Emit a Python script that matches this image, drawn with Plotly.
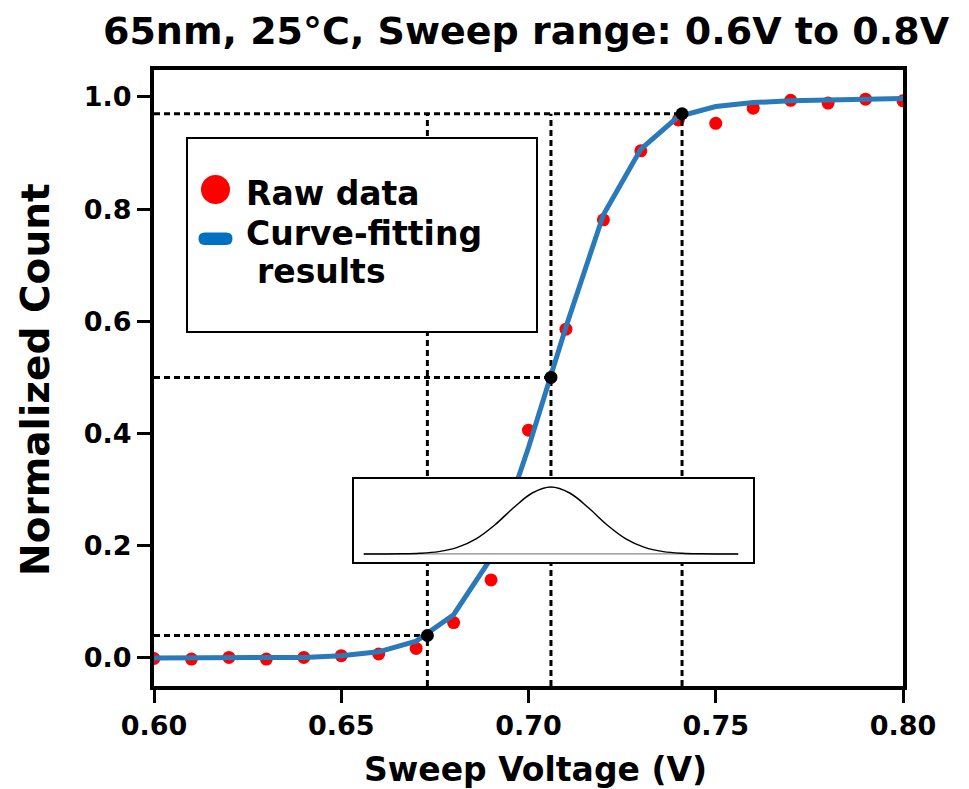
import plotly.graph_objects as go

# ---------------- data ----------------
sweep_v = [0.60, 0.61, 0.62, 0.63, 0.64, 0.65, 0.66, 0.67, 0.68, 0.69, 0.70,
           0.71, 0.72, 0.73, 0.74, 0.75, 0.76, 0.77, 0.78, 0.79, 0.80]
raw_count = [-0.001, -0.002, 0.001, -0.002, 0.001, 0.004, 0.007, 0.017, 0.063, 0.139, 0.406,
             0.586, 0.781, 0.904, 0.959, 0.953, 0.980, 0.994, 0.989, 0.996, 0.993]
fit_count = [0.0, 0.0, 0.0, 0.0005, 0.001, 0.004, 0.011, 0.030, 0.077, 0.178, 0.375,
             0.590, 0.790, 0.907, 0.965, 0.983, 0.990, 0.993, 0.995, 0.996, 0.997]

# key points on the fit (x, y)
key_v = [0.673, 0.706, 0.741]
key_y = [0.04, 0.50, 0.97]

# inset distribution (derivative of the fit)
inset_v = [0.656, 0.661, 0.666, 0.671, 0.676, 0.681, 0.686, 0.691, 0.696, 0.701, 0.706,
           0.711, 0.716, 0.721, 0.726, 0.731, 0.736, 0.741, 0.746, 0.751, 0.756]
inset_y = [0.0001, 0.0005, 0.0026, 0.0106, 0.035, 0.098, 0.226, 0.433, 0.690, 0.911, 1.0,
           0.911, 0.690, 0.433, 0.226, 0.098, 0.035, 0.0106, 0.0026, 0.0005, 0.0001]

x_ticks = [0.60, 0.65, 0.70, 0.75, 0.80]
y_ticks = [0.0, 0.2, 0.4, 0.6, 0.8, 1.0]

X_RANGE = [0.6, 0.8]
Y_RANGE = [-0.05, 1.048]

FONT = "DejaVu Sans"
W, H = 969, 789
ML, MR, MT, MB = 154, 66, 70, 103
PW, PH = W - ML - MR, H - MT - MB


def px(xp):
    return (xp - ML) / PW


def py(yp):
    return (H - MB - yp) / PH


fig = go.Figure()

# raw data
fig.add_trace(go.Scatter(x=sweep_v, y=raw_count, mode="markers",
                         marker=dict(color="#ff0000", size=13),
                         showlegend=False, hoverinfo="skip"))

# guide lines (dashed)
dash = "6px,4px"
for xv, yv in zip(key_v, key_y):
    fig.add_trace(go.Scatter(x=[X_RANGE[0], xv], y=[yv, yv], mode="lines",
                             line=dict(color="black", width=3, dash=dash),
                             showlegend=False, hoverinfo="skip"))
    fig.add_trace(go.Scatter(x=[xv, xv], y=[Y_RANGE[0], key_y[-1]], mode="lines",
                             line=dict(color="black", width=3, dash=dash),
                             showlegend=False, hoverinfo="skip"))

# fit curve
fig.add_trace(go.Scatter(x=sweep_v, y=fit_count, mode="lines",
                         line=dict(color="#2a7ab9", width=5),
                         showlegend=False, hoverinfo="skip"))

# key points
fig.add_trace(go.Scatter(x=key_v, y=key_y, mode="markers",
                         marker=dict(color="black", size=13),
                         showlegend=False, hoverinfo="skip"))

# inset
ix0, ix1 = 354, 753
iy0, iy1 = 479, 562
inset_xr = [X_RANGE[0] + (ix0 - ML) / PW * (X_RANGE[1] - X_RANGE[0]),
            X_RANGE[0] + (ix1 - ML) / PW * (X_RANGE[1] - X_RANGE[0])]
fig.add_trace(go.Scatter(x=[inset_v[0], inset_v[-1]], y=[0, 0], mode="lines",
                         line=dict(color="#888888", width=1.2),
                         xaxis="x2", yaxis="y2", showlegend=False, hoverinfo="skip"))
fig.add_trace(go.Scatter(x=inset_v, y=inset_y, mode="lines",
                         line=dict(color="black", width=1.5, shape="spline"),
                         xaxis="x2", yaxis="y2", showlegend=False, hoverinfo="skip"))

axis_common = dict(showline=True, linecolor="black", linewidth=4, mirror=True,
                   ticks="outside", ticklen=13, tickwidth=3, tickcolor="black",
                   showgrid=False, zeroline=False,
                   tickfont=dict(family=FONT, size=27, color="black", weight="bold"))

fig.update_layout(
    width=W, height=H,
    margin=dict(l=ML, r=MR, t=MT, b=MB),
    paper_bgcolor="white", plot_bgcolor="white",
    showlegend=False,
    title=dict(text="65nm, 25°C, Sweep range: 0.6V to 0.8V",
               font=dict(family=FONT, size=38, color="black", weight="bold"),
               x=526 / W, xanchor="center",
               y=1 - 31 / H, yanchor="middle", yref="container"),
    xaxis=dict(range=X_RANGE, tickvals=x_ticks, ticktext=[f"{v:.2f}" for v in x_ticks],
               **axis_common),
    yaxis=dict(range=Y_RANGE, tickvals=y_ticks, ticktext=[f"{v:.1f}" for v in y_ticks],
               **axis_common),
    xaxis2=dict(domain=[px(ix0), px(ix1)], anchor="y2", range=inset_xr,
                showline=True, linecolor="black", linewidth=1.5, mirror=True,
                showticklabels=False, ticks="", showgrid=False, zeroline=False),
    yaxis2=dict(domain=[py(iy1), py(iy0)], anchor="x2", range=[-0.12, 1.12],
                showline=True, linecolor="black", linewidth=1.5, mirror=True,
                showticklabels=False, ticks="", showgrid=False, zeroline=False),
)

# legend box (drawn manually)
lx0, lx1, ly0, ly1 = 187, 537, 138, 332
shapes = [
    dict(type="rect", xref="paper", yref="paper", x0=px(lx0), x1=px(lx1), y0=py(ly1), y1=py(ly0),
         line=dict(color="black", width=2), fillcolor="white", layer="above"),
    dict(type="circle", xref="paper", yref="paper", x0=px(201), x1=px(230), y0=py(204), y1=py(175),
         line=dict(color="#ff0000", width=0), fillcolor="#ff0000", layer="above"),
]
# pill-shaped line sample
r = 6.2
xa, xb, yc = 198.5, 232.5, 238.8
path = (f"M {px(xa + r)} {py(yc - r)} L {px(xb - r)} {py(yc - r)} "
        f"Q {px(xb)} {py(yc - r)} {px(xb)} {py(yc)} Q {px(xb)} {py(yc + r)} {px(xb - r)} {py(yc + r)} "
        f"L {px(xa + r)} {py(yc + r)} Q {px(xa)} {py(yc + r)} {px(xa)} {py(yc)} "
        f"Q {px(xa)} {py(yc - r)} {px(xa + r)} {py(yc - r)} Z")
shapes.append(dict(type="path", xref="paper", yref="paper", path=path,
                   line=dict(color="#0070c0", width=0), fillcolor="#0070c0", layer="above"))
fig.update_layout(shapes=shapes)

lfont = dict(family=FONT, size=33, color="black", weight="bold")
ann = [
    dict(text="Raw data", x=px(244), y=py(193), xref="paper", yref="paper",
         xanchor="left", yanchor="middle", showarrow=False, font=lfont),
    dict(text="Curve-fitting", x=px(244), y=py(233), xref="paper", yref="paper",
         xanchor="left", yanchor="middle", showarrow=False, font=lfont),
    dict(text="results", x=px(255), y=py(271), xref="paper", yref="paper",
         xanchor="left", yanchor="middle", showarrow=False, font=lfont),
    dict(text="Normalized Count", x=px(35), y=py(380), xref="paper", yref="paper",
         xanchor="center", yanchor="middle", textangle=-90, showarrow=False,
         font=dict(family=FONT, size=39, color="black", weight="bold")),
    dict(text="Sweep Voltage (V)", x=px(535), y=py(770), xref="paper", yref="paper",
         xanchor="center", yanchor="middle", showarrow=False,
         font=dict(family=FONT, size=33, color="black", weight="bold")),
]
fig.update_layout(annotations=ann)

fig.write_html("out.html", config={"displayModeBar": False},
               post_script="document.body.style.margin='0px';")
